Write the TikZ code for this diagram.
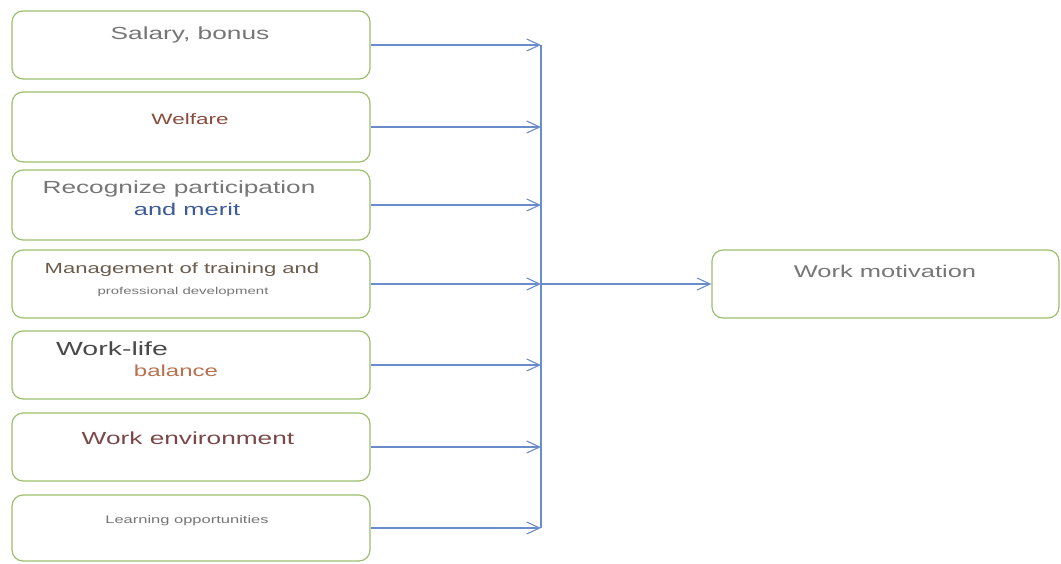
\documentclass[tikz,border=0pt]{standalone}
\usepackage{fontspec}
\setmainfont[FakeStretch=1.5]{Liberation Sans}
\usetikzlibrary{arrows.meta}
\definecolor{boxgreen}{HTML}{9CBF6E}
\definecolor{lineblue}{HTML}{6A8CCB}
\definecolor{cgray}{HTML}{767676}
\definecolor{cdgray}{HTML}{4A4A4A}
\definecolor{cwelf}{HTML}{8A4B3C}
\definecolor{cmerit}{HTML}{3D5A99}
\definecolor{cmgmt}{HTML}{6B5B4B}
\definecolor{cbal}{HTML}{B8704F}
\definecolor{cenv}{HTML}{7B4848}
\tikzset{
  factor/.style={draw=boxgreen, line width=1.2pt, rounded corners=11pt, fill=white,
    minimum width=358pt, inner sep=0pt},
  link/.style={draw=lineblue, line width=1.3pt,
    -{Straight Barb[length=13pt,width=12pt,line width=1.1pt]}},
  bus/.style={draw=lineblue, line width=1.5pt},
  lbl/.style={inner sep=0pt, anchor=center},
}
\newcommand{\fs}[1]{\fontsize{#1}{#1}\selectfont}
\begin{document}
\begin{tikzpicture}[x=1pt,y=-1pt]
\useasboundingbox (0,0) rectangle (1061,563);
% factor boxes
\node[factor, minimum height=68pt] (b1) at (191,45) {};
\node[factor, minimum height=70pt] (b2) at (191,127) {};
\node[factor, minimum height=70pt] (b3) at (191,205) {};
\node[factor, minimum height=68pt] (b4) at (191,284) {};
\node[factor, minimum height=68pt] (b5) at (191,365) {};
\node[factor, minimum height=68pt] (b6) at (191,447) {};
\node[factor, minimum height=66pt] (b7) at (191,528) {};
% outcome box
\node[factor, minimum width=347pt, minimum height=68pt] (wm) at (885.5,284) {};
% texts
\node[lbl, text=cgray] (t1) at (190,35) {\fs{17.5}Salary, bonus};
\node[lbl, text=cwelf] (t2) at (190,119) {\fs{15}Welfare};
\node[lbl, text=cgray] (t3) at (179,189) {\fs{17.5}Recognize participation};
\node[lbl, text=cmerit] (t4) at (187,209) {\fs{17}and merit};
\node[lbl, text=cmgmt] (t5) at (182,270) {\fs{14.7}Management of training and};
\node[lbl, text=cgray] (t6) at (183,292) {\fs{10}professional development};
\node[lbl, text=cdgray] (t7) at (112,349) {\fs{19}Work-life};
\node[lbl, text=cbal] (t8) at (176,371) {\fs{16}balance};
\node[lbl, text=cenv] (t9) at (188,438) {\fs{17.5}Work environment};
\node[lbl, text=cgray] (t10) at (187,521) {\fs{11}Learning opportunities};
\node[lbl, text=cgray] (t11) at (885,271) {\fs{17}Work motivation};
% bus
\coordinate (bustop) at (541,45);
\coordinate (busbot) at (541,528);
\draw[bus] (bustop) -- (busbot);
% connectors
\foreach \b in {b1,b2,b3,b4,b5,b6,b7}{
  \draw[link] (\b.east) -- (\b.east -| bustop);
}
\draw[link] (b4.east -| bustop) -- (wm.west);
\end{tikzpicture}
\end{document}
